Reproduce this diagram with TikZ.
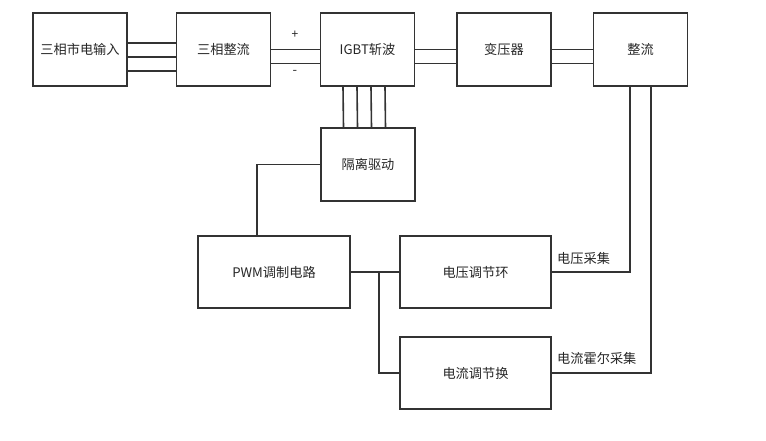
\documentclass[tikz,border=0pt]{standalone}
\usepackage{fontspec}
\setmainfont{Noto Sans CJK SC}
\usetikzlibrary{calc}
\begin{document}
\begin{tikzpicture}[x=1pt,y=-1pt,
  blk/.style={draw=black!80,line width=1.6pt,minimum width=94pt,minimum height=73pt,inner sep=0pt,font=\fontsize{13.2}{15}\selectfont,text=black!85},
  wideblk/.style={blk,minimum width=151pt,minimum height=72pt},
  wire/.style={draw=black!80,line width=1.6pt},
  lbl/.style={inner sep=0pt,font=\fontsize{13.2}{15}\selectfont,text=black!85}]
\useasboundingbox (0,0) rectangle (766,440);
\node[blk] (in) at (80,49.5) {三相市电输入};
\node[blk] (rect3) at (223.5,49.5) {三相整流};
\node[blk] (igbt) at (367.5,49.5) {IGBT斩波};
\node[blk] (tr) at (504,49.5) {变压器};
\node[blk] (rect) at (640.5,49.5) {整流};
\node[blk] (drv) at (368,164.5) {隔离驱动};
\node[wideblk,minimum width=152pt] (pwm) at (274,272) {PWM调制电路};
\node[wideblk] (vloop) at (475.5,272) {电压调节环};
\node[wideblk] (iloop) at (475.5,373) {电流调节换};
% three-phase lines
\foreach \s in {6.5,-7.5,-21.5}
  \draw[wire] ([yshift=\s pt]in.east) -- ([yshift=\s pt]rect3.west);
% DC + / -
\foreach \s in {0,-14}{
  \draw[wire] ([yshift=\s pt]rect3.east) -- ([yshift=\s pt]igbt.west);
  \draw[wire] ([yshift=\s pt]igbt.east) -- ([yshift=\s pt]tr.west);
  \draw[wire] ([yshift=\s pt]tr.east) -- ([yshift=\s pt]rect.west);
}
\node[lbl,font=\fontsize{12}{14}\selectfont] (plus) at (295,35) {+};
\node[lbl,font=\fontsize{13}{14}\selectfont] (minus) at (295,72) {-};
% gate drive lines
\foreach \s in {-24.5,-10.5,3.5,17.5}
  \draw[wire] ([xshift=\s pt]igbt.south) -- ([xshift=\s pt]drv.north);
% drive to PWM
\coordinate (dc) at (257,164.5);
\draw[wire] (drv.west) -- (dc) -- (dc |- pwm.north);
% PWM to loops
\coordinate (j) at (379,272);
\draw[wire] (pwm.east) -- (vloop.west);
\draw[wire] (j) |- (iloop.west);
% feedback
\coordinate (rv) at ([xshift=-10.5pt]rect.south);
\coordinate (ri) at ([xshift=10.5pt]rect.south);
\draw[wire] (rv) |- (vloop.east);
\draw[wire] (ri) |- (iloop.east);
\node[lbl,anchor=west] (vs) at (557,258) {电压采集};
\node[lbl,anchor=west] (is) at (557,358) {电流霍尔采集};
\end{tikzpicture}
\end{document}
